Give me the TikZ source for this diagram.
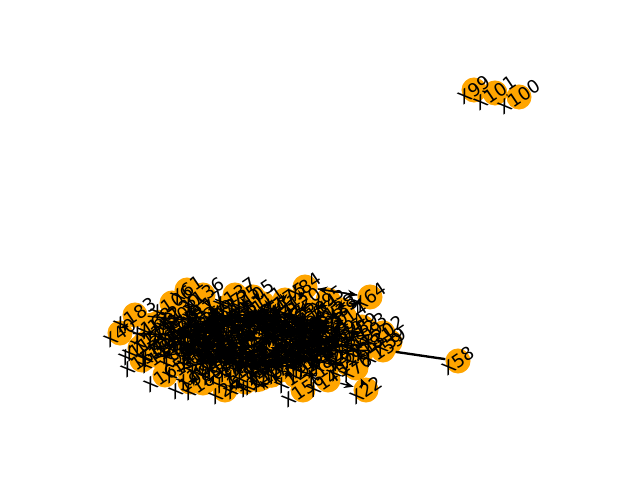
\documentclass[tikz,border=0pt]{standalone}
\usepackage{fontspec}
\setmainfont{DejaVu Sans}
\usetikzlibrary{arrows.meta}
\definecolor{orangefill}{HTML}{FFA500}
\tikzset{
  x=0.01in,y=-0.01in,
  dot/.style={circle,fill=orangefill,draw=none,minimum size=0.25in,inner sep=0pt},
  lab/.style={rotate=34,inner sep=0pt,text=black,font=\fontsize{13bp}{15bp}\selectfont},
  link/.style={draw=black,line width=1bp,-{Stealth[length=7bp,width=5.5bp]}},
  heavy/.style={draw=black,line width=1.7bp}
}
\begin{document}
\begin{tikzpicture}
\useasboundingbox (0,0) rectangle (640,480);
% outer nodes that reach the cluster, each with the inner node it links to
\def\outer{95/328/300/3,33/342/310/8,89/362/327/16,202/383/333/21,59/390/342/29,159/383/350/11,76/356/368/24,145/328/380/19,156/303/390/13,61/187/290/7,136/203/295/34,106/172/303/42,183/135/315/26,40/120/333/55,115/140/348/47,153/142/360/60,165/165/375/39,190/190/382/31,180/203/383/18,26/225/390/10,137/235/295/5,105/253/297/2,168/152/325/37,175/285/300/15,171/262/378/23,172/245/382/9,188/160/350/6,84/305/287/14}
\def\apart{99/474/90,101/495/93,100/519/97,58/458/361,22/366/390,64/370/297}
\foreach \n/\px/\py/\t in \outer {\node[dot] (o\n) at (\px,\py) {};}
\foreach \n/\px/\py in \apart {\node[dot] (o\n) at (\px,\py) {};}
\def\N{110}
\def\M{60}
\def\inner{1,2,3,4,5,6,7,8,9,10,11,12,13,16,17,18,19,20,21,23,24,25,27,28,29,30,31,32,34,35,36,37,38,39,41,42,43,44,45,46,47,48,49,50,51,52,53,54,55,56,57,60,62,63,65,66,67,68,69,70,71,72,73,74,75,77,78,79,80,81,82,83,85,86,87,88,90,91,92,93,94,96,97,98,103,104,107,108,109,110,111,112,113,114,116,117,118,119,120,121,122,123,124,125,126,127,128,129,130,131}
\foreach \n [count=\i] in \inner {
  \pgfmathsetmacro\rr{sqrt(\i/\N)}
  \pgfmathsetmacro\xx{258+116*\rr*cos(137.5*\i)}
  \pgfmathsetmacro\yy{340+40*\rr*sin(137.5*\i)}
  \node[dot] (c\i) at (\xx,\yy) {};
}
% dense connectors in the middle of the cluster
\foreach \i in {1,...,\M}{
  \foreach \k in {3,5,8,13,21,34}{
    \pgfmathtruncatemacro\tgt{\i+\k}
    \ifnum\tgt>\M\relax\else
      \path[link] (c\i) -- (c\tgt);
      \path[link] (c\tgt) -- (c\i);
    \fi
  }
}
% sparser connectors towards the rim
\foreach \i in {61,...,\N}{
  \pgfmathtruncatemacro\tgt{\i-34}
  \path[link] (c\i) -- (c\tgt);
}
% connectors from the outer nodes into the cluster
\foreach \n/\px/\py/\t in \outer {\path[link] (o\n) -- (c\t);}
\path[link] (o84) -- (o64);
\path[link] (o64) -- (o84);
\path[link] (o64) -- (o33);
\path[link] (o33) -- (o64);
\path[link] (o76) -- (o22);
\path[link] (o145) -- (o22);
\path[link] (o172) -- (o26);
\path[link] (o183) -- (o40);
\path[heavy] (o159) -- (o58);
\path[draw=black,line width=1bp] (o99) -- (o101);
\path[draw=black,line width=1bp] (o101) -- (o100);
% labels
\foreach \n [count=\i] in \inner {\node[lab] (lc\i) at (c\i) {X\n};}
\foreach \n/\px/\py/\t in \outer {\node[lab] (lo\n) at (o\n) {X\n};}
\foreach \n/\px/\py in \apart {\node[lab] (lo\n) at (o\n) {X\n};}
\end{tikzpicture}
\end{document}
